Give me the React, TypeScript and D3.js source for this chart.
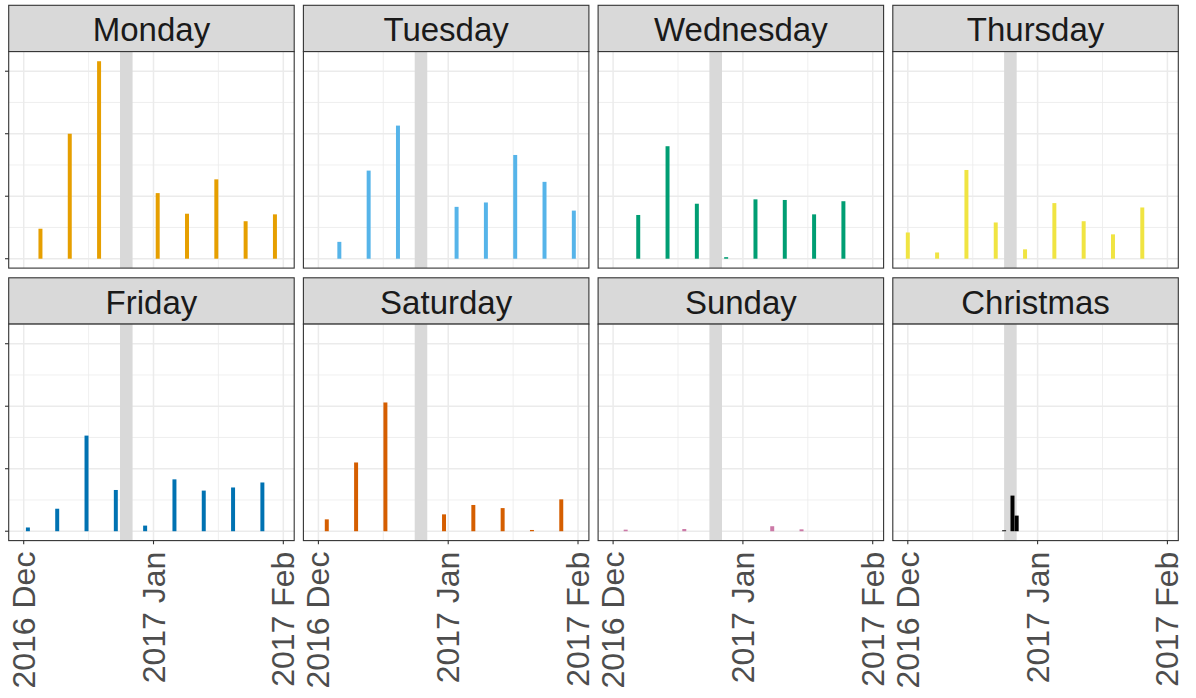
import * as d3 from "d3";

const PANEL_NAMES = ["Monday", "Tuesday", "Wednesday", "Thursday", "Friday", "Saturday", "Sunday", "Christmas"];
const PANEL_COLORS = ["#E69F00", "#56B4E9", "#009E73", "#F0E442", "#0072B2", "#D55E00", "#CC79A7", "#000000"];

const mondayDates = ["2016-12-05", "2016-12-12", "2016-12-19", "2017-01-02", "2017-01-09", "2017-01-16", "2017-01-23", "2017-01-30"];
const mondayValues = [4.8, 20.0, 31.6, 10.5, 7.2, 12.7, 6.0, 7.1];

const tuesdayDates = ["2016-12-06", "2016-12-13", "2016-12-20", "2017-01-03", "2017-01-10", "2017-01-17", "2017-01-24", "2017-01-31"];
const tuesdayValues = [2.7, 14.1, 21.3, 8.3, 9.0, 16.6, 12.3, 7.7];

const wednesdayDates = ["2016-12-07", "2016-12-14", "2016-12-21", "2016-12-28", "2017-01-04", "2017-01-11", "2017-01-18", "2017-01-25"];
const wednesdayValues = [7.0, 18.0, 8.8, 0.25, 9.5, 9.4, 7.1, 9.2];

const thursdayDates = ["2016-12-01", "2016-12-08", "2016-12-15", "2016-12-22", "2016-12-29", "2017-01-05", "2017-01-12", "2017-01-19", "2017-01-26"];
const thursdayValues = [4.2, 1.0, 14.2, 5.8, 1.5, 8.9, 6.0, 3.9, 8.2];

const fridayDates = ["2016-12-02", "2016-12-09", "2016-12-16", "2016-12-23", "2016-12-30", "2017-01-06", "2017-01-13", "2017-01-20", "2017-01-27"];
const fridayValues = [0.6, 3.6, 15.3, 6.6, 0.9, 8.3, 6.5, 7.0, 7.8];

const saturdayDates = ["2016-12-03", "2016-12-10", "2016-12-17", "2016-12-31", "2017-01-07", "2017-01-14", "2017-01-21", "2017-01-28"];
const saturdayValues = [1.9, 11.0, 20.6, 2.7, 4.2, 3.7, 0.2, 5.1];

const sundayDates = ["2016-12-04", "2016-12-18", "2017-01-08", "2017-01-15"];
const sundayValues = [0.25, 0.35, 0.8, 0.3];

const christmasDates = ["2016-12-24", "2016-12-26", "2016-12-27"];
const christmasValues = [0.15, 5.7, 2.5];

const panelDates = [mondayDates, tuesdayDates, wednesdayDates, thursdayDates, fridayDates, saturdayDates, sundayDates, christmasDates];
const panelValues = [mondayValues, tuesdayValues, wednesdayValues, thursdayValues, fridayValues, saturdayValues, sundayValues, christmasValues];

const xTickDates = ["2016-12-01", "2017-01-01", "2017-02-01"];
const xTickLabels = ["2016 Dec", "2017 Jan", "2017 Feb"];
const xMinorDates = ["2016-12-16T12", "2017-01-16T12"];
const yTicks = [0, 10, 20, 30];
const yMinorTicks = [5, 15, 25];
const holidayStart = "2016-12-24";
const holidayEnd = "2016-12-27";

const WIDTH = 1196;
const HEIGHT = 698;
const PANEL_W = 285.5;
const PANEL_H = 216.5;
const STRIP_H = 46.3;
const COL_STEP = 294.7;
const ROW_STEP = 272.5;
const LEFT = 8.7;
const TOP = 5.3;
const NCOL = 4;
const DAY = 24 * 3600 * 1000;

const parseDay = d3.utcParse("%Y-%m-%d");
const parseHour = d3.utcParse("%Y-%m-%dT%H");

const x = d3
  .scaleUtc()
  .domain([new Date(Date.UTC(2016, 10, 27, 10)), new Date(Date.UTC(2017, 1, 3, 14, 24))])
  .range([0, PANEL_W]);

const y = d3.scaleLinear().domain([-1.5, 33.14]).range([PANEL_H, 0]);

const FONT = "'Liberation Sans', Arial, Helvetica, sans-serif";

function Panel({ index }: { index: number }) {
  const col = index % NCOL;
  const row = Math.floor(index / NCOL);
  const left = LEFT + col * COL_STEP;
  const stripTop = TOP + row * ROW_STEP;
  const panelTop = stripTop + STRIP_H;
  const isBottom = row === 1;
  const isLeft = col === 0;

  const bars = panelDates[index].map((d, i) => ({
    date: parseDay(d) as Date,
    value: panelValues[index][i],
  }));
  const bandX0 = x(parseDay(holidayStart) as Date);
  const bandX1 = x(parseDay(holidayEnd) as Date);

  return (
    <g>
      {/* strip */}
      <rect x={left} y={stripTop} width={PANEL_W} height={STRIP_H} fill="#D9D9D9" stroke="#333333" strokeWidth={1.1} />
      <text
        x={left + PANEL_W / 2}
        y={stripTop + 35.8}
        textAnchor="middle"
        fontFamily={FONT}
        fontSize={33}
        fill="#1A1A1A"
      >
        {PANEL_NAMES[index]}
      </text>

      <g transform={`translate(${left},${panelTop})`}>
        <rect width={PANEL_W} height={PANEL_H} fill="white" />
        {yMinorTicks.map((t) => (
          <line key={`ym${t}`} x1={0} x2={PANEL_W} y1={y(t)} y2={y(t)} stroke="#EBEBEB" strokeWidth={0.8} />
        ))}
        {xMinorDates.map((d) => (
          <line key={`xm${d}`} x1={x(parseHour(d) as Date)} x2={x(parseHour(d) as Date)} y1={0} y2={PANEL_H} stroke="#EBEBEB" strokeWidth={0.8} />
        ))}
        {yTicks.map((t) => (
          <line key={`y${t}`} x1={0} x2={PANEL_W} y1={y(t)} y2={y(t)} stroke="#EBEBEB" strokeWidth={1.5} />
        ))}
        {xTickDates.map((d) => (
          <line key={`x${d}`} x1={x(parseDay(d) as Date)} x2={x(parseDay(d) as Date)} y1={0} y2={PANEL_H} stroke="#EBEBEB" strokeWidth={1.5} />
        ))}

        <rect x={bandX0} y={0} width={bandX1 - bandX0} height={PANEL_H} fill="#D9D9D9" />

        {bars.map((b, i) => {
          const x0 = x(new Date(b.date.getTime() - 0.475 * DAY));
          const x1 = x(new Date(b.date.getTime() + 0.475 * DAY));
          return (
            <rect
              key={i}
              x={x0}
              y={y(b.value)}
              width={x1 - x0}
              height={y(0) - y(b.value)}
              fill={PANEL_COLORS[index]}
            />
          );
        })}

        <rect width={PANEL_W} height={PANEL_H} fill="none" stroke="#333333" strokeWidth={1.1} />

        {isLeft &&
          yTicks.map((t) => (
            <line key={`yt${t}`} x1={-3.7} x2={0} y1={y(t)} y2={y(t)} stroke="#333333" strokeWidth={1.1} />
          ))}

        {isBottom &&
          xTickDates.map((d, i) => {
            const xp = x(parseDay(d) as Date);
            return (
              <g key={`xt${d}`}>
                <line x1={xp} x2={xp} y1={PANEL_H} y2={PANEL_H + 3.7} stroke="#333333" strokeWidth={1.1} />
                <text
                  transform={`translate(${xp},${PANEL_H + 11}) rotate(-90)`}
                  textAnchor="end"
                  dominantBaseline="central"
                  fontFamily={FONT}
                  fontSize={32}
                  fill="#4D4D4D"
                >
                  {xTickLabels[i]}
                </text>
              </g>
            );
          })}
      </g>
    </g>
  );
}

export default function App() {
  return (
    <svg
      width={WIDTH}
      height={HEIGHT}
      style={{ position: "absolute", left: 0, top: 0, background: "white" }}
    >
      <rect width={WIDTH} height={HEIGHT} fill="white" />
      {PANEL_NAMES.map((_, i) => (
        <Panel key={i} index={i} />
      ))}
    </svg>
  );
}
